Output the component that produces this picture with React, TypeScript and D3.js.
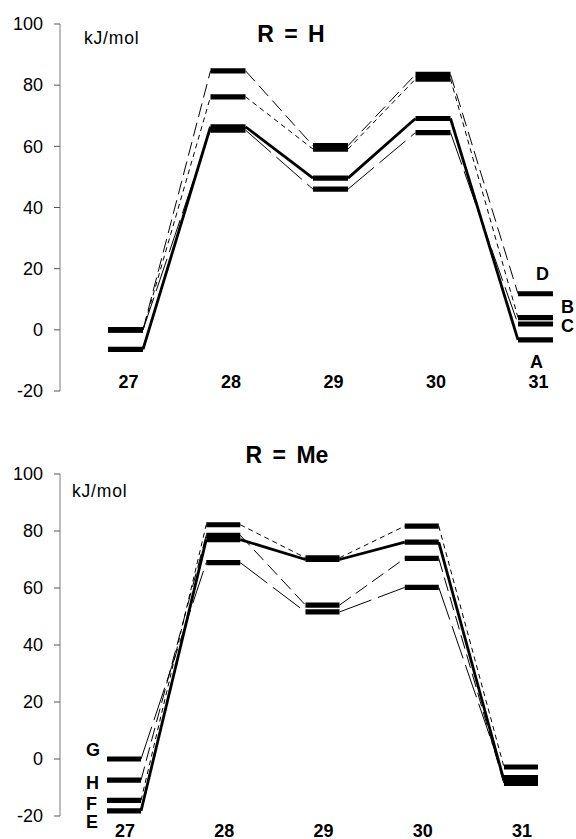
// Energy profile diagrams, R = H (top) and R = Me (bottom), drawn with d3 scales.
import * as d3 from "d3";

const STEPS = ["27", "28", "29", "30", "31"];
const Y_TICKS = [-20, 0, 20, 40, 60, 80, 100];

// R = H, kJ/mol per step
const H_A = [-6.4, 66.4, 49.6, 69.1, -3.3];
const H_B = [0, 76.2, 59.1, 82.0, 4.0];
const H_C = [0, 65.3, 46.0, 64.5, 1.9];
const H_D = [0, 84.7, 60.2, 83.5, 11.8];

// R = Me, kJ/mol per step
const ME_E = [-18.2, 77.0, 70.0, 76.1, -7.6];
const ME_F = [-14.5, 82.2, 70.6, 81.7, -2.8];
const ME_G = [0, 68.9, 51.6, 60.2, -6.5];
const ME_H = [-7.4, 78.5, 54.0, 70.4, -8.6];

const FONT = "'Liberation Sans', Arial, Helvetica, sans-serif";

type Style = "thick" | "short" | "long" | "thin";
const STROKES: Record<Style, { w: number; dash?: string }> = {
  thick: { w: 2.8 },
  short: { w: 1, dash: "5 4" },
  long: { w: 1, dash: "14 6" },
  thin: { w: 1, dash: "34 7" },
};

interface Series {
  name: string;
  values: number[];
  style: Style;
  // letter placed next to the bar at step `at`, nudged by dx/dy
  at: number;
  dx: number;
  dy: number;
}

interface PanelCfg {
  title: string;
  titleX: number;
  titleY: number;
  unitX: number;
  unitY: number;
  yRange: [number, number];
  xRange: [number, number];
  pad: number;
  labelY: number;
  labelShift: number;
  series: Series[];
}

const PANELS: PanelCfg[] = [
  {
    title: "R = H",
    titleX: 291,
    titleY: 42,
    unitX: 84,
    unitY: 44,
    yRange: [391, 24],
    xRange: [108, 553],
    pad: 0.6585,
    labelY: 388,
    labelShift: 3,
    series: [
      { name: "A", values: H_A, style: "thick", at: 4, dx: -23, dy: 28 },
      { name: "B", values: H_B, style: "short", at: 4, dx: 8, dy: -4.5 },
      { name: "C", values: H_C, style: "thin", at: 4, dx: 8, dy: 8 },
      { name: "D", values: H_D, style: "long", at: 4, dx: -17, dy: -14 },
    ],
  },
  {
    title: "R = Me",
    titleX: 287,
    titleY: 463,
    unitX: 72,
    unitY: 497,
    yRange: [816, 474],
    xRange: [107, 538],
    pad: 0.657,
    labelY: 837,
    labelShift: 1,
    series: [
      { name: "E", values: ME_E, style: "thick", at: 0, dx: -21, dy: 17 },
      { name: "F", values: ME_F, style: "short", at: 0, dx: -21, dy: 9.6 },
      { name: "G", values: ME_G, style: "thin", at: 0, dx: -21, dy: -3 },
      { name: "H", values: ME_H, style: "long", at: 0, dx: -21, dy: 9 },
    ],
  },
];

function Panel({ cfg }: { cfg: PanelCfg }) {
  const y = d3.scaleLinear().domain([-20, 100]).range(cfg.yRange);
  const x = d3
    .scaleBand<string>()
    .domain(STEPS)
    .range(cfg.xRange)
    .paddingInner(cfg.pad)
    .paddingOuter(0);
  const bw = x.bandwidth();
  const axisX = 60;
  const seg = d3.line<[number, number]>();

  return (
    <g>
      <line x1={axisX} x2={axisX} y1={y(100)} y2={y(-20)} stroke="#7a7a7a" strokeWidth={1} />
      {Y_TICKS.map((t) => (
        <g key={t}>
          <line x1={axisX - 6} x2={axisX} y1={y(t)} y2={y(t)} stroke="#555" strokeWidth={1} />
          <text x={43} y={y(t)} dy="0.35em" textAnchor="end" fontSize={18} fontFamily={FONT}>
            {t}
          </text>
        </g>
      ))}
      <text x={cfg.unitX} y={cfg.unitY} fontSize={17.5} fontFamily={FONT} letterSpacing={0.8}>
        kJ/mol
      </text>
      <text
        x={cfg.titleX}
        y={cfg.titleY}
        textAnchor="middle"
        fontSize={23}
        fontWeight="bold"
        fontFamily={FONT}
        wordSpacing={4}
      >
        {cfg.title}
      </text>

      {cfg.series.map((s) => {
        const st = STROKES[s.style];
        return s.values.slice(0, -1).map((v, i) => (
          <path
            key={s.name + i}
            d={
              seg([
                [(x(STEPS[i]) as number) + bw, y(v)],
                [x(STEPS[i + 1]) as number, y(s.values[i + 1])],
              ]) as string
            }
            fill="none"
            stroke="#000"
            strokeWidth={st.w}
            strokeDasharray={st.dash}
          />
        ));
      })}

      {cfg.series.map((s) =>
        s.values.map((v, i) => (
          <line
            key={s.name + "b" + i}
            x1={x(STEPS[i])}
            x2={(x(STEPS[i]) as number) + bw}
            y1={y(v)}
            y2={y(v)}
            stroke="#000"
            strokeWidth={5.2}
          />
        ))
      )}

      {cfg.series.map((s) => {
        const bx = x(STEPS[s.at]) as number;
        const ax = s.at === 0 ? bx : bx + bw;
        return (
          <text
            key={s.name + "lab"}
            x={ax + s.dx}
            y={y(s.values[s.at]) + s.dy}
            fontSize={18}
            fontWeight="bold"
            fontFamily={FONT}
          >
            {s.name}
          </text>
        );
      })}

      {STEPS.map((c) => (
        <text
          key={c}
          x={(x(c) as number) + bw / 2 + cfg.labelShift}
          y={cfg.labelY}
          textAnchor="middle"
          fontSize={18}
          fontWeight="bold"
          fontFamily={FONT}
        >
          {c}
        </text>
      ))}
    </g>
  );
}

export default function App() {
  return (
    <div style={{ position: "absolute", left: 0, top: 0 }}>
      <svg width={576} height={839} viewBox="0 0 576 839" style={{ display: "block", background: "#fff" }}>
        <rect width={576} height={839} fill="#fff" />
        {PANELS.map((p) => (
          <Panel key={p.title} cfg={p} />
        ))}
      </svg>
    </div>
  );
}
